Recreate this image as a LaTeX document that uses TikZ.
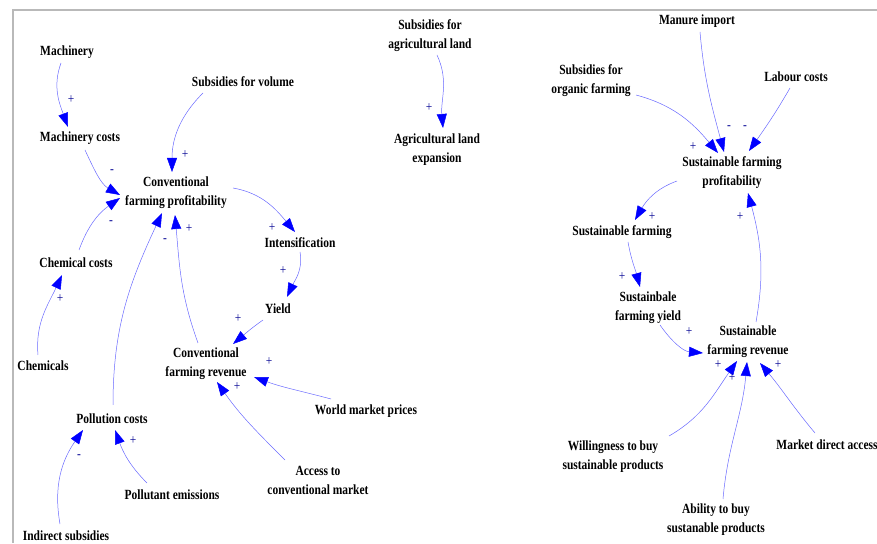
\documentclass[tikz,border=0pt]{standalone}
\usepackage{fontspec}
\setmainfont{Liberation Serif}[FakeStretch=0.82]
\usetikzlibrary{arrows.meta}

\definecolor{linkblue}{RGB}{105,105,255}
\definecolor{headblue}{RGB}{0,0,255}
\definecolor{signblue}{RGB}{10,10,150}
\definecolor{framegray}{RGB}{185,185,185}

\tikzset{
  var/.style={align=center,inner sep=1pt,font=\bfseries\fontsize{14}{19}\selectfont},
  link/.style={draw=linkblue,line width=0.5pt,
    -{Triangle[length=14pt,width=10pt,color=headblue]}},
  pol/.style={text=signblue,inner sep=0pt,font=\fontsize{14}{14}\selectfont}
}

\begin{document}
\begin{tikzpicture}[x=1pt,y=1pt]
        \useasboundingbox (0,0) rectangle (877,543);
        \draw[framegray,line width=1.5pt] (13,0) -- (13,533) -- (877,533);

        % conventional farming
        \node[var] (mach) at (67,491) {Machinery};
        \node[var] (mcost) at (80,405) {Machinery costs};
        \node[var] (subvol) at (243,461) {Subsidies for volume};
        \node[var] (cprof) at (176,350) {Conventional\\farming profitability};
        \node[var] (intens) at (300,300) {Intensification};
        \node[var] (chcost) at (76,280) {Chemical costs};
        \node[var] (chem) at (43,177) {Chemicals};
        \node[var] (yield) at (278,234) {Yield};
        \node[var] (crev) at (206,179) {Conventional\\farming revenue};
        \node[var] (wmp) at (366,132) {World market prices};
        \node[var] (polc) at (112,124) {Pollution costs};
        \node[var] (pemis) at (172,48) {Pollutant emissions};
        \node[var] (access) at (318,63) {Access to\\conventional market};
        \node[var] (indsub) at (66,7) {Indirect subsidies};

        % land
        \node[var] (subagr) at (430,507) {Subsidies for\\agricultural land};
        \node[var] (agrexp) at (437,393) {Agricultural land\\expansion};

        % sustainable farming
        \node[var] (manure) at (697,522) {Manure import};
        \node[var] (suborg) at (591,462) {Subsidies for\\organic farming};
        \node[var] (labour) at (796,466) {Labour costs};
        \node[var] (sprof) at (732,370) {Sustainable farming\\profitability};
        \node[var] (sfarm) at (622,311) {Sustainable farming};
        \node[var] (syield) at (648,235) {Sustainbale\\farming yield};
        \node[var] (srev) at (748,201) {Sustainable\\farming revenue};
        \node[var] (willing) at (613,86) {Willingness to buy\\sustainable products};
        \node[var] (market) at (827,98) {Market direct access};
        \node[var] (ability) at (716,23) {Ability to buy\\sustanable products};

        \draw[link] ([shift={(-6,-11)}]mach.center) to[out=-110,in=110] ([shift={(-12,11)}]mcost.center);
        \draw[link] ([shift={(-40,-11)}]subvol.center) to[out=225,in=90] ([shift={(-4,21)}]cprof.center);
        \draw[link] ([shift={(5,-12)}]mcost.center) to[out=-65,in=150] ([shift={(-56,-2)}]cprof.center);
        \draw[link] ([shift={(3,13)}]chcost.center) to[out=70,in=215] ([shift={(-56,-5)}]cprof.center);
        \draw[link] ([shift={(57,5)}]cprof.center) to[out=-10,in=130] ([shift={(-5,11)}]intens.center);
        \draw[link] ([shift={(1,14)}]polc.center) to[out=90,in=245] ([shift={(-14,-20)}]cprof.center);
        \draw[link] ([shift={(-8,21)}]crev.center) to[out=110,in=-85] ([shift={(-1,-22)}]cprof.center);
        \draw[link] ([shift={(0,-9)}]intens.center) to[out=-80,in=65] ([shift={(9,12)}]yield.center);
        \draw[link] ([shift={(-15,-11)}]yield.center) to[out=215,in=40] ([shift={(27,20)}]crev.center);
        \draw[link] ([shift={(-35,12)}]wmp.center) to[out=165,in=-20] ([shift={(48,-13)}]crev.center);
        \draw[link] ([shift={(-33,20)}]access.center) to[out=135,in=-55] ([shift={(11,-18)}]crev.center);
        \draw[link] ([shift={(-5,11)}]chem.center) to[out=95,in=245] ([shift={(-14,-12)}]chcost.center);
        \draw[link] ([shift={(-25,12)}]pemis.center) to[out=135,in=-70] ([shift={(3,-11)}]polc.center);
        \draw[link] ([shift={(-6,12)}]indsub.center) to[out=100,in=235] ([shift={(-29,-11)}]polc.center);
        \draw[link] ([shift={(7,-19)}]subagr.center) to[out=-65,in=95] ([shift={(6,22)}]agrexp.center);

        \draw[link] ([shift={(45,-14)}]suborg.center) to[out=-15,in=130] ([shift={(-14,20)}]sprof.center);
        \draw[link] ([shift={(3,-11)}]manure.center) to[out=-85,in=105] ([shift={(-8,21)}]sprof.center);
        \draw[link] ([shift={(-6,-11)}]labour.center) to[out=-120,in=55] ([shift={(17,22)}]sprof.center);
        \draw[link] ([shift={(-55,-8)}]sprof.center) to[out=200,in=60] ([shift={(13,12)}]sfarm.center);
        \draw[link] ([shift={(8,20)}]srev.center) to[out=80,in=-75] ([shift={(16,-20)}]sprof.center);
        \draw[link] ([shift={(6,-10)}]sfarm.center) to[out=-80,in=105] ([shift={(-8,21)}]syield.center);
        \draw[link] ([shift={(12,-17)}]syield.center) to[out=-55,in=175] ([shift={(-45,-11)}]srev.center);
        \draw[link] ([shift={(56,21)}]willing.center) to[out=30,in=235] ([shift={(-11,-19)}]srev.center);
        \draw[link] ([shift={(7,21)}]ability.center) to[out=85,in=265] ([shift={(-1,-20)}]srev.center);
        \draw[link] ([shift={(-12,12)}]market.center) to[out=130,in=-50] ([shift={(12,-21)}]srev.center);

        % polarities
        \node[pol] (s1) at (71,443) {+};
        \node[pol] (s2) at (185,388) {+};
        \node[pol] (s3) at (112,371) {-};
        \node[pol] (s4) at (111,320) {-};
        \node[pol] (s5) at (272,315) {+};
        \node[pol] (s6) at (165,302) {-};
        \node[pol] (s7) at (189,314) {+};
        \node[pol] (s8) at (283,272) {+};
        \node[pol] (s9) at (238,224) {+};
        \node[pol] (s10) at (269,181) {+};
        \node[pol] (s11) at (237,156) {+};
        \node[pol] (s12) at (60,244) {+};
        \node[pol] (s13) at (133,102) {+};
        \node[pol] (s14) at (79,86) {-};
        \node[pol] (s15) at (429,435) {+};
        \node[pol] (s16) at (693,396) {+};
        \node[pol] (s17) at (729,415) {-};
        \node[pol] (s18) at (745,415) {-};
        \node[pol] (s19) at (652,326) {+};
        \node[pol] (s20) at (740,326) {+};
        \node[pol] (s21) at (622,266) {+};
        \node[pol] (s22) at (689,211) {+};
        \node[pol] (s23) at (718,178) {+};
        \node[pol] (s24) at (732,165) {+};
        \node[pol] (s25) at (778,178) {+};
\end{tikzpicture}
\end{document}
